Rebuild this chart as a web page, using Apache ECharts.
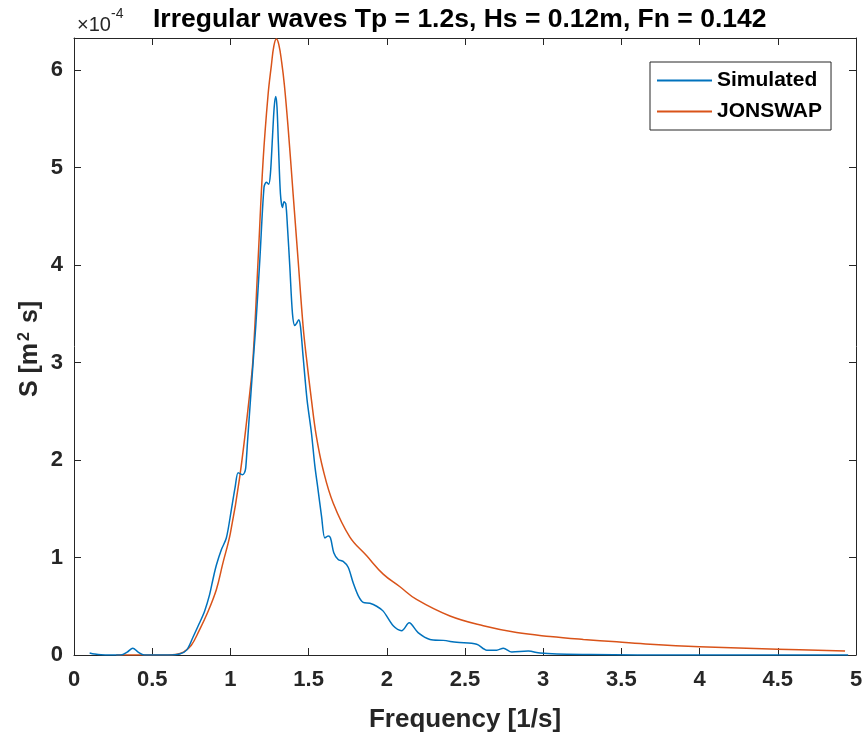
<!DOCTYPE html>
<html>
<head>
<meta charset="utf-8">
<script src="https://cdn.jsdelivr.net/npm/echarts@6/dist/echarts.min.js"></script>
<style>
html,body{margin:0;padding:0;background:#fff;}
#chart{width:867px;height:738px;}
</style>
</head>
<body>
<div id="chart"></div>
<script>
// Values in units of 1e-4 m^2 s
var simFreq = [0.10,0.13,0.20,0.30,0.34,0.376,0.41,0.45,0.60,0.675,0.72,0.76,0.80,0.835,0.867,0.889,0.91,0.942,0.974,1.006,1.03,1.049,1.063,1.077,1.09,1.098,1.11,1.124,1.151,1.162,1.188,1.215,1.23,1.245,1.256,1.269,1.28,1.29,1.298,1.307,1.32,1.333,1.343,1.354,1.365,1.38,1.397,1.412,1.422,1.437,1.448,1.465,1.49,1.518,1.54,1.56,1.583,1.604,1.625,1.64,1.661,1.689,1.721,1.753,1.785,1.817,1.849,1.892,1.935,1.977,2.041,2.095,2.143,2.20,2.276,2.361,2.447,2.575,2.639,2.703,2.745,2.799,2.905,2.98,3.087,3.30,3.60,4.95];
var simVal  = [0.02,0.01,0.0,0.0,0.03,0.07,0.03,0.0,0.0,0.01,0.05,0.18,0.32,0.45,0.62,0.78,0.92,1.08,1.20,1.49,1.72,1.87,1.86,1.85,1.87,1.92,2.20,2.52,3.13,3.37,4.05,4.80,4.85,4.83,4.94,5.31,5.62,5.73,5.62,5.24,4.73,4.59,4.65,4.63,4.39,3.98,3.50,3.38,3.40,3.44,3.37,3.06,2.62,2.28,1.94,1.70,1.42,1.20,1.22,1.20,1.05,0.98,0.96,0.90,0.74,0.61,0.54,0.53,0.50,0.45,0.30,0.25,0.33,0.23,0.16,0.15,0.13,0.11,0.05,0.05,0.07,0.03,0.04,0.02,0.01,0.005,0.0,0.0];
var jonFreq = [0.27,0.60,0.65,0.70,0.75,0.80,0.85,0.91,0.95,1.00,1.06,1.124,1.145,1.177,1.209,1.241,1.262,1.278,1.294,1.31,1.328,1.345,1.369,1.401,1.433,1.465,1.486,1.518,1.55,1.593,1.657,1.764,1.87,1.977,2.084,2.19,2.404,2.617,2.83,3.044,3.257,3.47,3.684,4.00,4.50,4.93];
var jonVal  = [0.0,0.0,0.005,0.03,0.10,0.25,0.42,0.67,0.93,1.25,1.83,2.69,3.05,4.05,5.07,5.75,6.05,6.25,6.32,6.26,6.08,5.85,5.41,4.73,4.05,3.37,3.05,2.62,2.24,1.90,1.56,1.21,1.02,0.83,0.70,0.57,0.40,0.30,0.23,0.19,0.16,0.135,0.11,0.085,0.06,0.04];
var xTicks = [0,0.5,1,1.5,2,2.5,3,3.5,4,4.5,5];
var yTicks = [0,1,2,3,4,5,6];
var seriesNames = ['Simulated','JONSWAP'];
var titleText = 'Irregular waves Tp = 1.2s, Hs = 0.12m, Fn = 0.142';

function zip(a,b){var r=[];for(var i=0;i<a.length;i++)r.push([a[i],b[i]]);return r;}

var axisCol = '#262626';
var font = 'Liberation Sans, Arial, Helvetica, sans-serif';
var yMax = 6.33;

function mkTick(vals){
  var t = {show:true,inside:true,length:7,lineStyle:{color:axisCol}};
  if(vals) t.customValues = vals;
  return t;
}

var chart = echarts.init(document.getElementById('chart'), null, {renderer:'canvas'});
var option = {
  animation:false,
  backgroundColor:'#fff',
  textStyle:{fontFamily:font},
  title:{
    text:titleText, left:148, top:1,
    textStyle:{fontFamily:font,fontSize:26.5,fontWeight:'bold',color:'#000'}
  },
  legend:{
    left:650, top:62, orient:'vertical',
    data:[{name:seriesNames[0],icon:'rect'},{name:seriesNames[1],icon:'rect'}],
    itemWidth:55, itemHeight:2, itemGap:10,
    padding:[8,9,8,7],
    borderColor:axisCol, borderWidth:1, backgroundColor:'#fff',
    textStyle:{fontFamily:font,fontSize:21,fontWeight:'bold',color:'#000',lineHeight:20}
  },
  grid:{left:74,right:11,top:38,bottom:83,containLabel:false},
  xAxis:[{
    type:'value', min:0, max:5, interval:0.5, position:'bottom',
    name:'Frequency [1/s]', nameLocation:'middle', nameGap:52,
    nameTextStyle:{fontFamily:font,fontSize:26,fontWeight:'bold',color:'#262626'},
    axisLine:{show:true,onZero:false,lineStyle:{color:axisCol,width:1}},
    axisTick:mkTick(xTicks),
    axisLabel:{show:true,margin:14,fontFamily:font,fontSize:22,fontWeight:'bold',color:'#262626',
      customValues:xTicks, formatter:function(v){return String(v);}},
    splitLine:{show:false}
  },{
    type:'value', min:0, max:5, interval:0.5, position:'top',
    axisLine:{show:true,onZero:false,lineStyle:{color:axisCol,width:1}},
    axisTick:mkTick(xTicks),
    axisLabel:{show:false}, splitLine:{show:false}
  }],
  yAxis:[{
    type:'value', min:0, max:yMax, position:'left',
    axisLine:{show:true,onZero:false,lineStyle:{color:axisCol,width:1}},
    axisTick:mkTick(yTicks),
    axisLabel:{show:true,margin:11,fontFamily:font,fontSize:22,fontWeight:'bold',color:'#262626',
      customValues:yTicks},
    splitLine:{show:false}
  },{
    type:'value', min:0, max:yMax, position:'right',
    axisLine:{show:true,onZero:false,lineStyle:{color:axisCol,width:1}},
    axisTick:mkTick(yTicks),
    axisLabel:{show:false}, splitLine:{show:false}
  }],
  graphic:[
    {type:'text', left:77, top:15, style:{text:'\u00d710', fontFamily:font, fontSize:20, fill:'#262626'}},
    {type:'text', left:111, top:7, style:{text:'-4', fontFamily:font, fontSize:14, fill:'#262626'}},
    {type:'text', x:30, y:349, rotation:Math.PI/2,
      style:{text:'{b|S [m}{s|2}{b| s]}', align:'center', verticalAlign:'middle',
        rich:{
          b:{fontFamily:font,fontSize:25,fontWeight:'bold',fill:'#262626'},
          s:{fontFamily:font,fontSize:16,fontWeight:'bold',fill:'#262626',verticalAlign:'top',padding:[0,2,10,2]}
        }}}
  ],
  series:[{
    name:seriesNames[0], type:'line', xAxisIndex:0, yAxisIndex:0,
    data:zip(simFreq,simVal), showSymbol:false, symbol:'none', smooth:0.3,
    lineStyle:{color:'#0072BD',width:1.5}, itemStyle:{color:'#0072BD'}, z:3
  },{
    name:seriesNames[1], type:'line', xAxisIndex:0, yAxisIndex:0,
    data:zip(jonFreq,jonVal), showSymbol:false, symbol:'none', smooth:0.4,
    lineStyle:{color:'#D95319',width:1.5}, itemStyle:{color:'#D95319'}, z:2
  }]
};
chart.setOption(option);
</script>
</body>
</html>
